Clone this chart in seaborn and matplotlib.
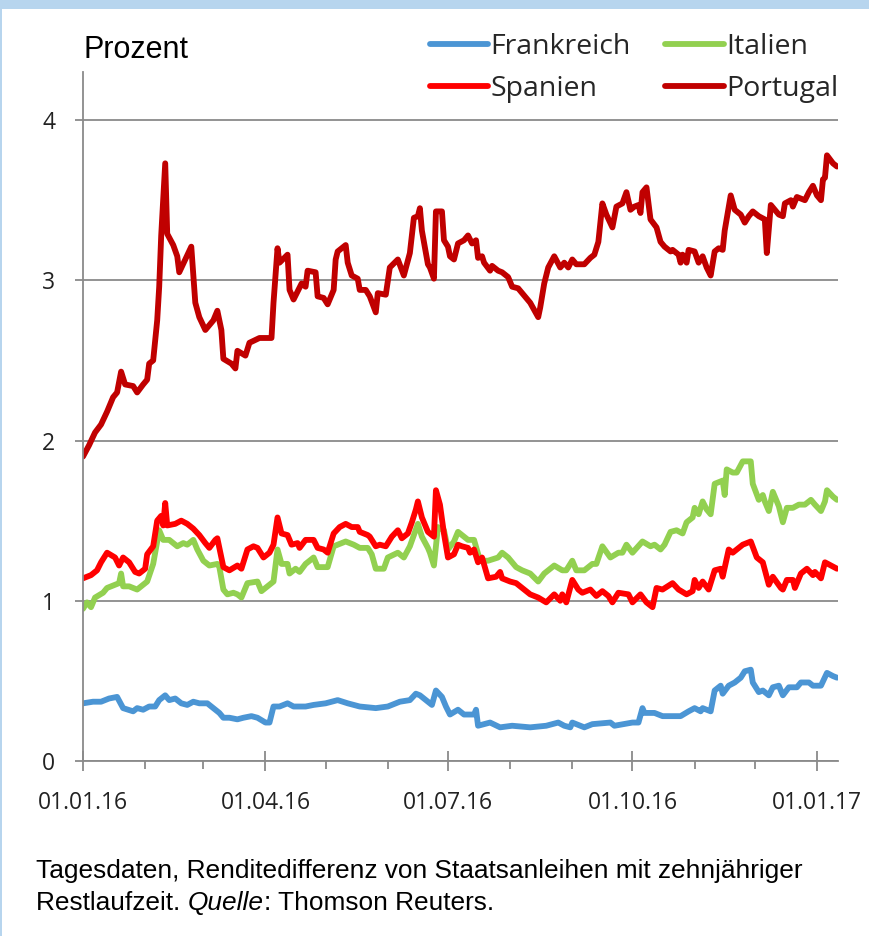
import pandas as pd
import matplotlib
matplotlib.use("Agg")
import matplotlib.pyplot as plt
import matplotlib.dates as mdates
from matplotlib.patches import Rectangle
import seaborn as sns

# Tage ab 01.01.2016 und Renditedifferenz in Prozentpunkten
fr_days = [0, 5, 9, 13, 17, 20, 25, 27, 30, 33, 36, 38, 41, 43, 46, 49, 52, 55, 58, 62,
           65, 68, 70, 73, 77, 80, 84, 87, 91, 93, 95, 98, 102, 105, 111, 115, 121, 127, 132, 138,
           146, 152, 158, 163, 166, 168, 172, 174, 176, 179, 181, 183, 187, 190, 195, 196, 197, 203, 208, 214,
           223, 231, 237, 240, 243, 244, 250, 254, 263, 265, 274, 277, 279, 280, 285, 289, 294, 298, 302, 305,
           308, 309, 313, 315, 318, 319, 322, 325, 328, 330, 333, 334, 337, 339, 342, 344, 347, 349, 352, 356,
           358, 362, 364, 368, 371, 374, 376]
fr_vals = [0.36, 0.37, 0.37, 0.39, 0.40, 0.33, 0.31, 0.33, 0.32, 0.34, 0.34, 0.38, 0.41, 0.38, 0.39, 0.36, 0.35, 0.37, 0.36, 0.36,
           0.33, 0.30, 0.27, 0.27, 0.26, 0.27, 0.28, 0.27, 0.24, 0.24, 0.34, 0.34, 0.36, 0.34, 0.34, 0.35, 0.36, 0.38, 0.36, 0.34,
           0.33, 0.34, 0.37, 0.38, 0.42, 0.41, 0.37, 0.35, 0.44, 0.40, 0.34, 0.29, 0.32, 0.29, 0.29, 0.32, 0.22, 0.24, 0.21, 0.22,
           0.21, 0.22, 0.24, 0.22, 0.21, 0.24, 0.21, 0.23, 0.24, 0.22, 0.24, 0.24, 0.33, 0.30, 0.30, 0.28, 0.28, 0.28, 0.31, 0.33,
           0.31, 0.33, 0.31, 0.44, 0.47, 0.42, 0.47, 0.49, 0.52, 0.56, 0.57, 0.49, 0.43, 0.44, 0.41, 0.46, 0.47, 0.41, 0.46, 0.46,
           0.49, 0.49, 0.47, 0.47, 0.55, 0.53, 0.52]

it_days = [0, 2, 4, 6, 10, 12, 16, 18, 19, 20, 23, 27, 30, 32, 35, 38, 40, 43, 47, 50,
           52, 55, 57, 60, 63, 67, 68, 70, 72, 75, 77, 79, 82, 87, 89, 92, 95, 97, 99, 102,
           103, 106, 108, 111, 115, 117, 122, 125, 131, 135, 138, 142, 144, 146, 150, 152, 157, 160, 163, 167,
           169, 172, 173, 175, 177, 180, 182, 185, 187, 189, 192, 195, 198, 202, 207, 209, 212, 216, 219, 223,
           227, 230, 235, 239, 241, 244, 246, 250, 254, 256, 259, 263, 267, 269, 271, 274, 279, 283, 285, 288,
           290, 293, 296, 299, 301, 304, 305, 307, 309, 311, 313, 315, 319, 320, 321, 324, 326, 329, 333, 334,
           337, 339, 340, 342, 344, 347, 349, 351, 354, 357, 360, 363, 365, 368, 370, 371, 374, 376]
it_vals = [0.95, 0.99, 0.96, 1.02, 1.05, 1.08, 1.10, 1.11, 1.17, 1.09, 1.09, 1.07, 1.10, 1.12, 1.23, 1.44, 1.38, 1.38, 1.34, 1.36,
           1.35, 1.38, 1.32, 1.25, 1.22, 1.23, 1.21, 1.07, 1.04, 1.05, 1.04, 1.02, 1.11, 1.12, 1.06, 1.09, 1.12, 1.32, 1.23, 1.23,
           1.17, 1.20, 1.18, 1.23, 1.27, 1.21, 1.21, 1.34, 1.37, 1.35, 1.33, 1.33, 1.29, 1.20, 1.20, 1.27, 1.30, 1.27, 1.34, 1.48,
           1.40, 1.33, 1.30, 1.22, 1.46, 1.44, 1.32, 1.37, 1.43, 1.41, 1.38, 1.38, 1.25, 1.25, 1.27, 1.30, 1.27, 1.21, 1.19, 1.17,
           1.12, 1.17, 1.22, 1.19, 1.19, 1.25, 1.19, 1.19, 1.23, 1.23, 1.34, 1.27, 1.30, 1.30, 1.35, 1.30, 1.37, 1.34, 1.35, 1.32,
           1.35, 1.43, 1.44, 1.42, 1.49, 1.52, 1.58, 1.54, 1.62, 1.57, 1.54, 1.73, 1.75, 1.66, 1.82, 1.80, 1.80, 1.87, 1.87, 1.73,
           1.63, 1.66, 1.62, 1.56, 1.68, 1.59, 1.49, 1.58, 1.58, 1.60, 1.60, 1.63, 1.60, 1.56, 1.62, 1.69, 1.65, 1.63]

es_days = [0, 4, 7, 9, 12, 16, 18, 20, 23, 26, 28, 31, 32, 35, 37, 39, 40, 41, 42, 46,
           49, 52, 55, 58, 61, 63, 66, 67, 70, 73, 77, 79, 82, 85, 87, 90, 93, 95, 97, 99,
           102, 104, 107, 108, 111, 115, 117, 120, 122, 125, 128, 131, 134, 137, 138, 142, 143, 146, 148, 151,
           154, 157, 159, 162, 164, 166, 167, 169, 171, 172, 175, 176, 178, 180, 182, 185, 187, 189, 192, 193,
           195, 197, 199, 202, 206, 208, 209, 213, 216, 219, 223, 227, 231, 235, 238, 239, 241, 244, 247, 249,
           253, 256, 259, 262, 264, 267, 272, 274, 278, 281, 284, 286, 289, 294, 297, 301, 304, 305, 307, 309,
           312, 315, 318, 319, 322, 324, 327, 329, 333, 336, 339, 342, 344, 348, 349, 351, 354, 355, 358, 361,
           364, 365, 368, 370, 373, 376]
es_vals = [1.14, 1.16, 1.19, 1.24, 1.30, 1.27, 1.22, 1.27, 1.24, 1.18, 1.17, 1.20, 1.29, 1.34, 1.50, 1.53, 1.47, 1.61, 1.47, 1.48,
           1.50, 1.48, 1.45, 1.41, 1.36, 1.33, 1.38, 1.39, 1.21, 1.19, 1.22, 1.20, 1.32, 1.34, 1.33, 1.27, 1.30, 1.35, 1.52, 1.42,
           1.41, 1.35, 1.36, 1.33, 1.38, 1.38, 1.33, 1.32, 1.30, 1.42, 1.46, 1.48, 1.46, 1.46, 1.43, 1.41, 1.40, 1.34, 1.35, 1.34,
           1.40, 1.44, 1.39, 1.42, 1.49, 1.57, 1.62, 1.52, 1.46, 1.43, 1.40, 1.69, 1.60, 1.42, 1.27, 1.29, 1.35, 1.34, 1.33, 1.30,
           1.32, 1.24, 1.27, 1.14, 1.15, 1.18, 1.14, 1.12, 1.11, 1.08, 1.04, 1.02, 0.99, 1.04, 1.00, 1.04, 0.99, 1.13, 1.07, 1.05,
           1.07, 1.03, 1.06, 1.03, 0.99, 1.05, 1.04, 0.99, 1.04, 0.99, 0.96, 1.08, 1.07, 1.11, 1.07, 1.04, 1.06, 1.13, 1.08, 1.12,
           1.07, 1.19, 1.20, 1.15, 1.32, 1.30, 1.33, 1.35, 1.37, 1.27, 1.24, 1.10, 1.15, 1.08, 1.07, 1.13, 1.13, 1.08, 1.17, 1.20,
           1.16, 1.18, 1.14, 1.24, 1.22, 1.20]

pt_days = [0, 3, 6, 9, 12, 15, 17, 19, 21, 25, 27, 30, 32, 33, 35, 37, 38, 39, 41, 42,
           45, 47, 48, 51, 54, 56, 58, 61, 65, 67, 69, 70, 74, 76, 77, 81, 83, 88, 94, 95,
           97, 98, 102, 103, 105, 109, 111, 112, 116, 117, 120, 122, 125, 126, 127, 130, 131, 132, 134, 137,
           138, 141, 143, 146, 147, 151, 153, 157, 160, 163, 165, 167, 168, 169, 172, 173, 175, 176, 179, 180,
           182, 183, 185, 187, 190, 192, 194, 196, 197, 199, 200, 203, 204, 207, 209, 212, 214, 217, 223, 227,
           228, 230, 232, 235, 238, 240, 242, 244, 246, 250, 253, 255, 257, 259, 261, 264, 266, 269, 271, 273,
           275, 277, 278, 279, 281, 283, 286, 288, 290, 293, 294, 297, 298, 299, 301, 302, 305, 307, 309, 311,
           313, 315, 317, 319, 320, 323, 325, 328, 330, 332, 334, 337, 340, 341, 343, 347, 349, 350, 353, 354,
           356, 360, 362, 364, 366, 368, 369, 370, 371, 374, 376]
pt_vals = [1.90, 1.97, 2.05, 2.10, 2.18, 2.27, 2.30, 2.43, 2.35, 2.34, 2.30, 2.35, 2.38, 2.48, 2.50, 2.75, 2.96, 3.28, 3.73, 3.29,
           3.22, 3.15, 3.05, 3.13, 3.21, 2.86, 2.77, 2.69, 2.75, 2.81, 2.69, 2.51, 2.48, 2.45, 2.56, 2.53, 2.61, 2.64, 2.64, 2.86,
           3.20, 3.11, 3.16, 2.94, 2.88, 2.98, 2.96, 3.06, 3.05, 2.90, 2.89, 2.85, 2.94, 3.13, 3.18, 3.21, 3.22, 3.11, 3.03, 3.01,
           2.94, 2.94, 2.90, 2.80, 2.92, 2.91, 3.08, 3.13, 3.03, 3.17, 3.39, 3.40, 3.45, 3.31, 3.10, 3.08, 3.01, 3.43, 3.43, 3.25,
           3.21, 3.15, 3.13, 3.23, 3.25, 3.28, 3.23, 3.25, 3.14, 3.15, 3.11, 3.06, 3.09, 3.06, 3.05, 3.02, 2.96, 2.95, 2.86, 2.77,
           2.83, 2.98, 3.08, 3.15, 3.08, 3.11, 3.08, 3.13, 3.10, 3.10, 3.14, 3.16, 3.24, 3.48, 3.41, 3.33, 3.46, 3.48, 3.55, 3.44,
           3.46, 3.47, 3.42, 3.55, 3.58, 3.38, 3.33, 3.24, 3.21, 3.18, 3.19, 3.16, 3.11, 3.16, 3.11, 3.19, 3.18, 3.11, 3.15, 3.08,
           3.03, 3.18, 3.20, 3.19, 3.31, 3.53, 3.44, 3.41, 3.36, 3.40, 3.43, 3.40, 3.38, 3.17, 3.47, 3.41, 3.40, 3.48, 3.50, 3.46,
           3.52, 3.50, 3.55, 3.59, 3.53, 3.50, 3.63, 3.64, 3.78, 3.73, 3.71]

laender = ["Frankreich", "Italien", "Spanien", "Portugal"]
farben = ["#4b95d4", "#92d050", "#ff0000", "#c00000"]
start = pd.Timestamp("2016-01-01")

frames = []
for name, days, vals in [("Frankreich", fr_days, fr_vals), ("Italien", it_days, it_vals),
                         ("Spanien", es_days, es_vals), ("Portugal", pt_days, pt_vals)]:
    frames.append(pd.DataFrame({"Datum": start + pd.to_timedelta(days, unit="D"),
                                "Wert": vals, "Land": name}))
df = pd.concat(frames, ignore_index=True)

sns.set_theme(style="white")
plt.rcParams["font.family"] = ["Open Sans", "DejaVu Sans"]

grau = "#8a8a8a"
fig = plt.figure(figsize=(8.7, 9.36), dpi=100)
ax = fig.add_axes([83 / 870, 175 / 936, 755 / 870, 689 / 936])

for land, farbe in zip(laender, farben):
    sns.lineplot(data=df[df["Land"] == land], x="Datum", y="Wert", color=farbe,
                 linewidth=4.2, label=land, ax=ax)

ax.set_ylim(0, 4.3)
ax.set_xlim(start, start + pd.Timedelta(days=376.5))
ax.set_yticks([0, 1, 2, 3, 4])
ax.yaxis.grid(True, color=grau, linewidth=1.3)
ax.xaxis.grid(False)
ax.set_axisbelow(True)

ax.xaxis.set_major_locator(mdates.MonthLocator(bymonth=[1, 4, 7, 10]))
ax.xaxis.set_minor_locator(mdates.MonthLocator())
ax.xaxis.set_major_formatter(mdates.DateFormatter("%d.%m.%y"))
ax.tick_params(axis="x", which="major", direction="inout", length=15, width=1.3,
               color=grau, pad=14, labelsize=16.5, labelcolor="#222222")
ax.tick_params(axis="x", which="minor", direction="out", length=6, width=1.3, color=grau)
ax.tick_params(axis="y", direction="out", length=6, width=1.3, color=grau, pad=14,
               labelsize=16.5, labelcolor="#222222")
ax.xaxis.set_ticks_position("bottom")
ax.yaxis.set_ticks_position("left")

for side in ["top", "right"]:
    ax.spines[side].set_visible(False)
for side in ["left", "bottom"]:
    ax.spines[side].set_color(grau)
    ax.spines[side].set_linewidth(1.3)
ax.set_xlabel("")
ax.set_ylabel("")

handles, labels = ax.get_legend_handles_labels()
ax.get_legend().remove()
order = [0, 2, 1, 3]
fig.legend([handles[i] for i in order], [labels[i] for i in order],
           loc="upper left", bbox_to_anchor=(430 / 870, 1 - 33 / 936), ncol=2,
           frameon=False, fontsize=20.5, handlelength=2.05, handletextpad=0.08,
           columnspacing=1.2, labelspacing=0.5, borderpad=0, borderaxespad=0)

fig.text(83 / 870, 1 - 50 / 936, "Prozent", family="Liberation Sans", fontsize=22,
         va="center", ha="left", color="black")

cap = dict(family="Liberation Sans", fontsize=18.9, va="center", ha="left", color="black")
fig.text(36 / 870, 1 - 871 / 936, "Tagesdaten, Renditedifferenz von Staatsanleihen mit zehnjähriger", **cap)
r = fig.canvas.get_renderer()
t1 = fig.text(36 / 870, 1 - 903 / 936, "Restlaufzeit. ", **cap)
w1 = t1.get_window_extent(r).width / 870
t2 = fig.text(36 / 870 + w1, 1 - 903 / 936, "Quelle", style="italic", **cap)
w2 = t2.get_window_extent(r).width / 870
fig.text(36 / 870 + w1 + w2, 1 - 903 / 936, ": Thomson Reuters.", **cap)

# hellblauer Rahmen oben und links
fig.patches.append(Rectangle((0, 1 - 9 / 936), 1, 9 / 936, transform=fig.transFigure,
                             facecolor="#b7d5ee", edgecolor="none"))
fig.patches.append(Rectangle((0, 0), 2.5 / 870, 1, transform=fig.transFigure,
                             facecolor="#b7d5ee", edgecolor="none"))

fig.savefig("out.png", dpi=100)
